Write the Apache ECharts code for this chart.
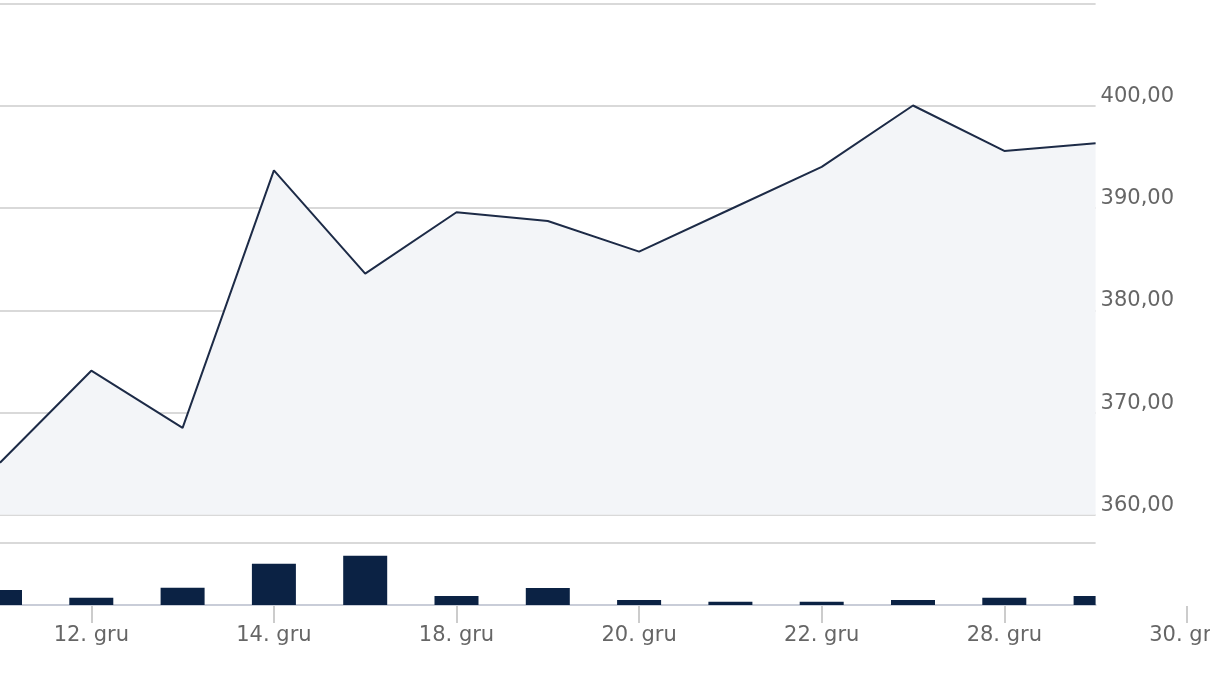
<!DOCTYPE html>
<html>
<head>
<meta charset="utf-8">
<script src="https://cdn.jsdelivr.net/npm/echarts@6/dist/echarts.min.js"></script>
<style>
  html, body { margin: 0; padding: 0; background: #ffffff; }
  #chart { width: 1210px; height: 684px; }
</style>
</head>
<body>
<div id="chart"></div>
<script>
// ---- data ----
const categories = ['11. gru', '12. gru', '13. gru', '14. gru', '15. gru', '18. gru', '19. gru',
                    '20. gru', '21. gru', '22. gru', '27. gru', '28. gru', '29. gru', '30. gru'];
const closePrices = [365.1, 374.1, 368.5, 393.7, 383.6, 389.6, 388.75, 385.75, 389.9, 394.05, 400.05, 395.6, 396.35];
const volumes = [15, 7.3, 17.3, 41.3, 49.3, 9, 17, 5, 3.3, 3.3, 5, 7.3, 9];
const priceTicks = [360, 370, 380, 390, 400, 410];

const pointCats = categories.slice(0, closePrices.length);
const step = 91.3;
const plotWidth = step * (pointCats.length - 1);
const axisWidth = step * (categories.length - 1);
const font = 'DejaVu Sans';
const barColor = '#0b2244';

const chart = echarts.init(document.getElementById('chart'), null, { renderer: 'canvas' });

function renderVolumeBar(params, api) {
  const idx = api.value(0);
  const val = api.value(1);
  const top = api.coord([idx, val]);
  const base = api.coord([idx, 0]);
  const w = 44;
  const cs = params.coordSys;
  const rect = echarts.graphic.clipRectByRect(
    { x: top[0] - w / 2, y: top[1], width: w, height: base[1] - top[1] },
    { x: cs.x, y: cs.y, width: cs.width, height: cs.height }
  );
  if (!rect) return null;
  return { type: 'rect', shape: rect, style: { fill: barColor } };
}

const option = {
  animation: false,
  backgroundColor: '#ffffff',
  grid: [
    { left: 0, top: 3.8, width: plotWidth, height: 511, containLabel: false, outerBoundsMode: 'none' },
    { left: 0, top: 543, width: plotWidth, height: 62, containLabel: false, outerBoundsMode: 'none' },
    { left: 0, top: 605, width: axisWidth, height: 1, containLabel: false, outerBoundsMode: 'none' }
  ],
  xAxis: [
    { gridIndex: 0, type: 'category', data: pointCats, boundaryGap: false,
      axisLine: { show: false }, axisTick: { show: false }, axisLabel: { show: false }, splitLine: { show: false } },
    { gridIndex: 1, type: 'category', data: pointCats, boundaryGap: false,
      axisLine: { show: true, lineStyle: { color: '#c9cdd8', width: 2 } },
      axisTick: { show: false }, axisLabel: { show: false }, splitLine: { show: false } },
    { gridIndex: 2, type: 'category', data: categories, boundaryGap: false, position: 'top',
      axisLine: { show: false },
      axisTick: { show: true, inside: true, length: 17, interval: (i) => i % 2 === 1,
                  lineStyle: { color: '#cccccc', width: 2 } },
      axisLabel: { show: true, inside: true, interval: (i) => i % 2 === 1, margin: 20,
                   color: '#666666', fontFamily: font, fontSize: 21, verticalAlign: 'top' },
      splitLine: { show: false } }
  ],
  yAxis: [
    { gridIndex: 0, type: 'value', position: 'right', min: priceTicks[0], max: priceTicks[priceTicks.length - 1], interval: 10,
      axisLine: { show: false }, axisTick: { show: false },
      splitLine: { show: true, lineStyle: { color: '#d9d9d9', width: 2 } },
      axisLabel: { show: true, margin: 5, color: '#666666', fontFamily: font, fontSize: 21,
                   verticalAlign: 'bottom', lineHeight: 19, showMaxLabel: false,
                   formatter: (v) => v === 410 ? '' : v.toFixed(2).replace('.', ',') } },
    { gridIndex: 1, type: 'value', min: 0, max: 62, interval: 62,
      axisLine: { show: false }, axisTick: { show: false }, axisLabel: { show: false },
      splitLine: { show: true, lineStyle: { color: '#d9d9d9', width: 2 } } },
    { gridIndex: 2, type: 'value', show: false }
  ],
  series: [
    { type: 'line', xAxisIndex: 0, yAxisIndex: 0, data: closePrices, symbol: 'none',
      lineStyle: { color: '#1d2b47', width: 2 },
      areaStyle: { color: '#f3f5f8', opacity: 1 } },
    { type: 'custom', xAxisIndex: 1, yAxisIndex: 1, renderItem: renderVolumeBar,
      encode: { x: 0, y: 1 },
      data: volumes.map((v, i) => [i, v]) }
  ]
};
chart.setOption(option);
</script>
</body>
</html>
